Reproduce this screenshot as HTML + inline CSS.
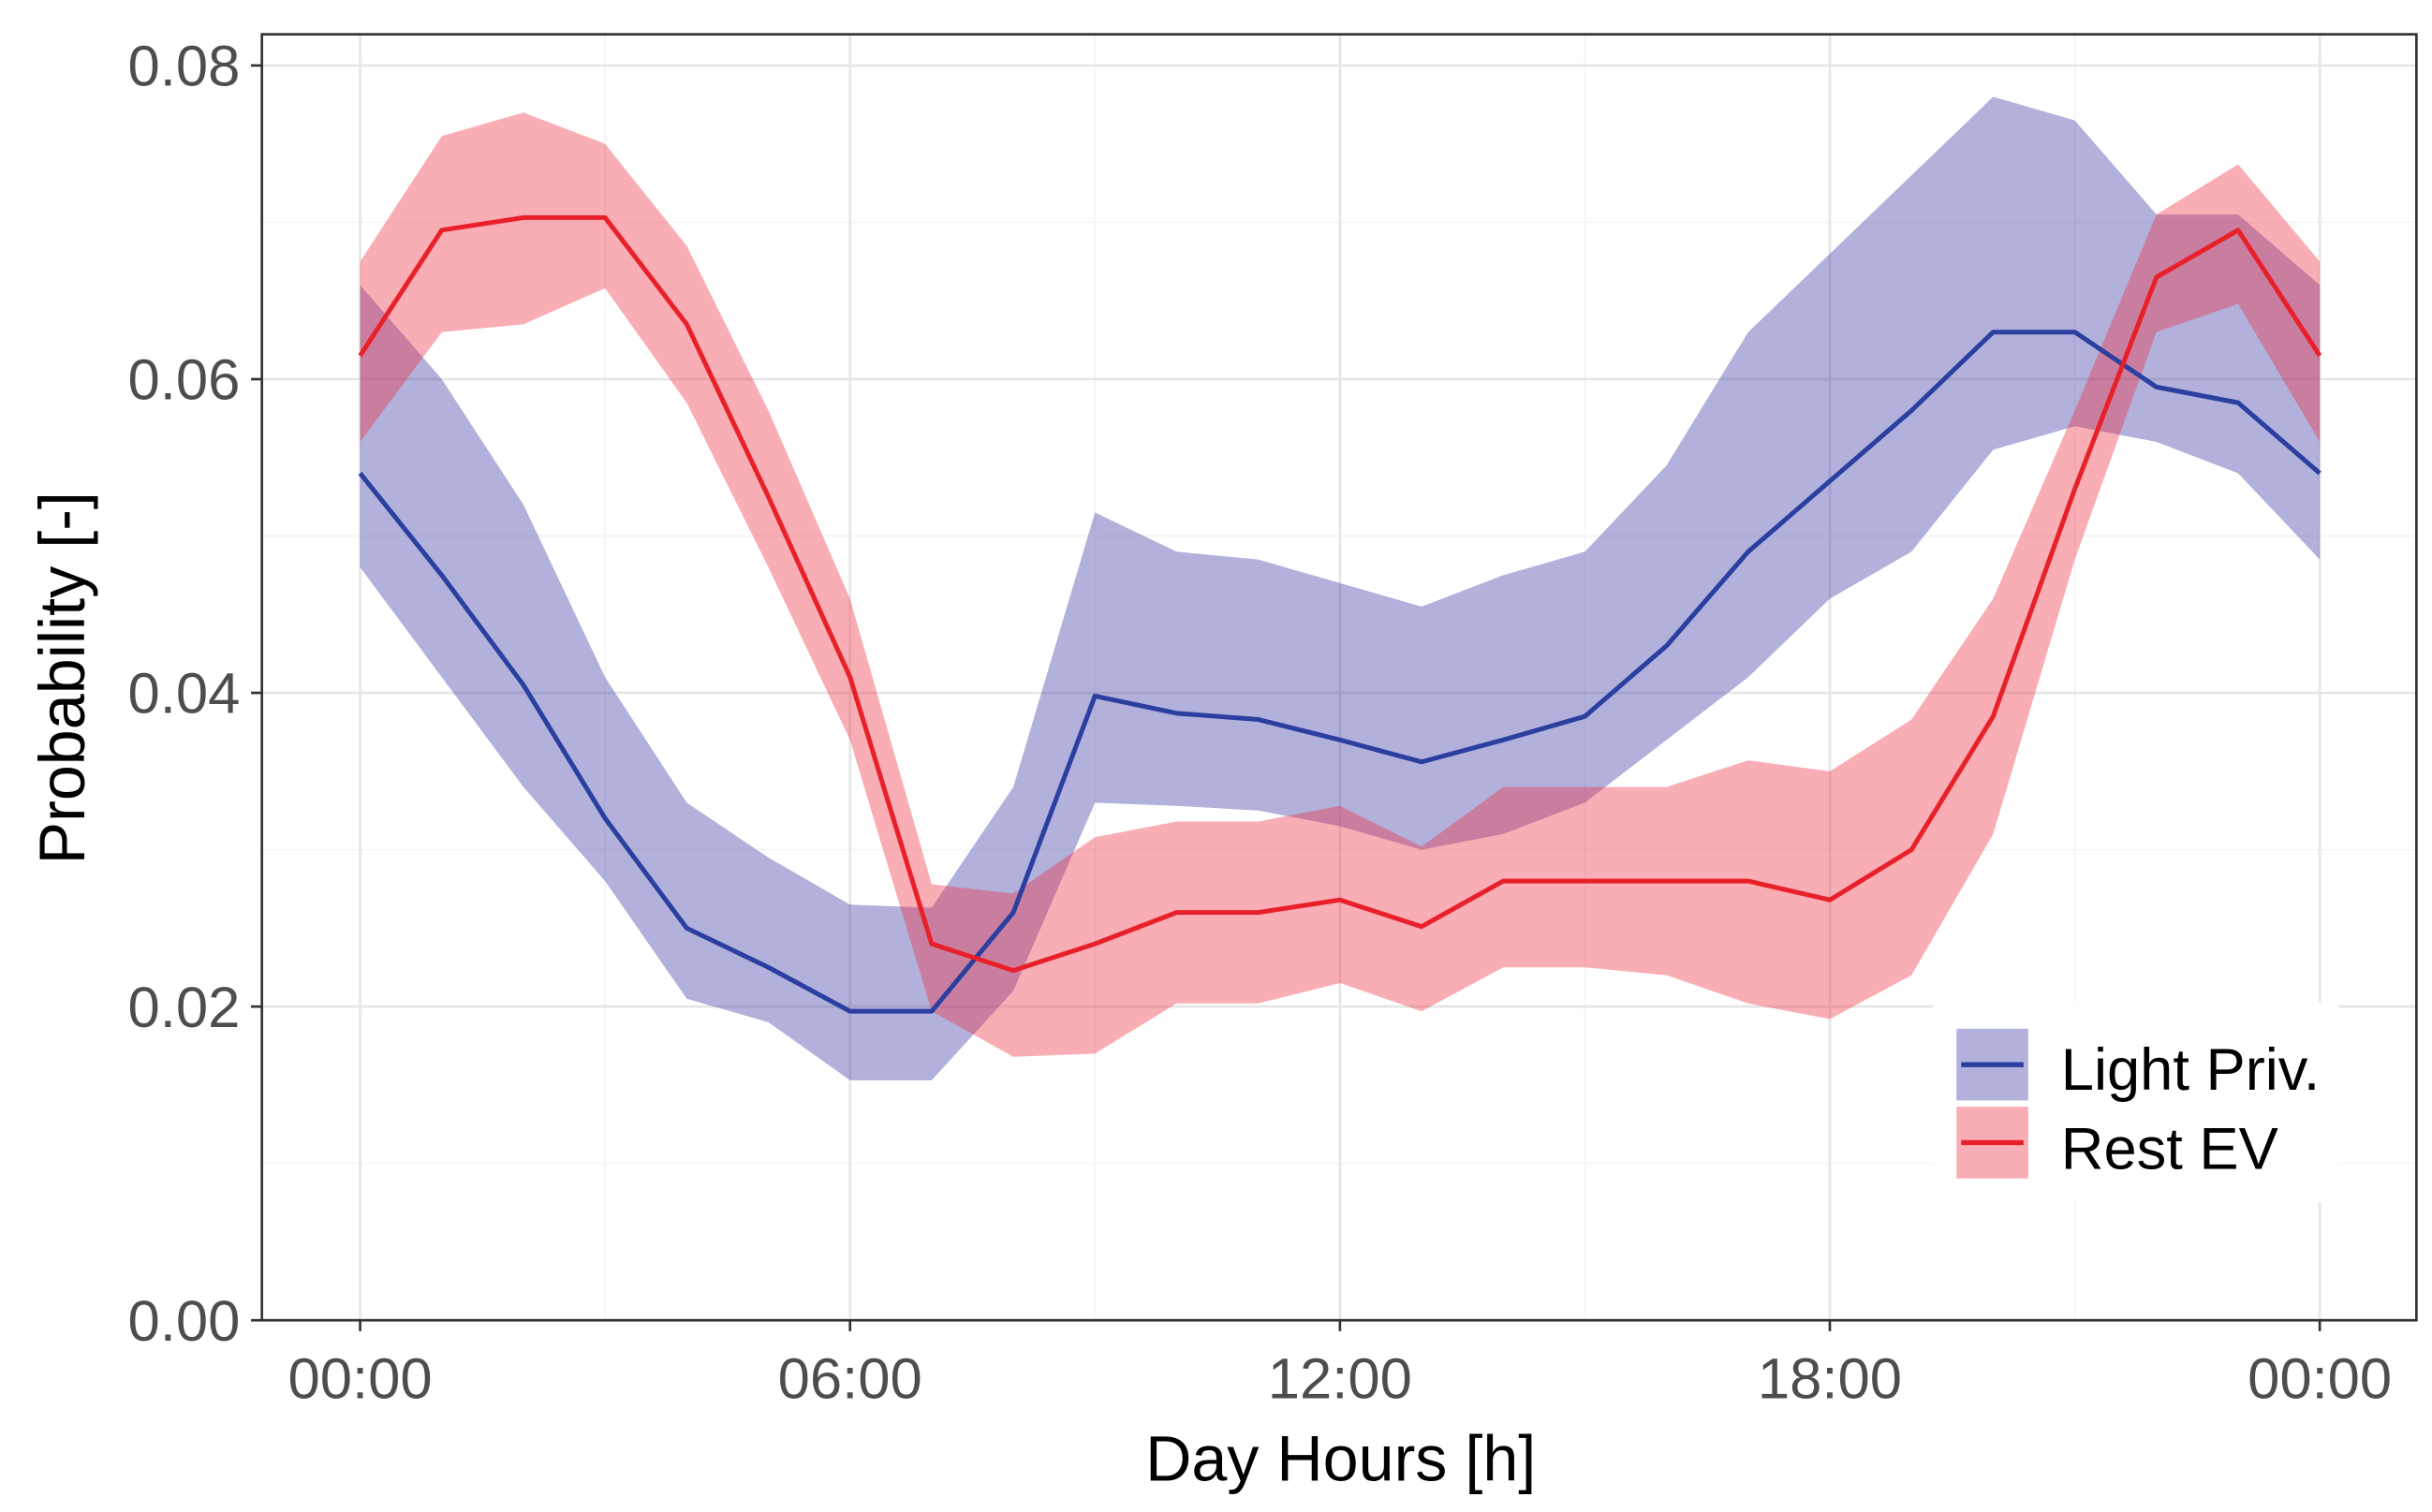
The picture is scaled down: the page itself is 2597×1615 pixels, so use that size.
<!DOCTYPE html>
<html><head><meta charset="utf-8"><style>
html,body{margin:0;padding:0;background:#fff;}
svg{display:block;font-family:"Liberation Sans",sans-serif;}
</style></head><body>
<svg id="chart" width="2597" height="1615" viewBox="0 0 1560 970" preserveAspectRatio="none" xmlns="http://www.w3.org/2000/svg">
<g id="grid"></g>
<g id="bands"></g>
<g id="lines"></g>
<rect x="168" y="22" width="1382" height="825" fill="none" stroke="#333" stroke-width="1.6"/>
<g id="axes"></g>
<text x="860" y="950" font-size="41" text-anchor="middle" fill="#000">Day Hours [h]</text>
<text transform="translate(54,435) rotate(-90)" font-size="41" text-anchor="middle" fill="#000">Probability [-]</text>
<g>
<rect x="1240" y="643" width="260" height="128" fill="#fff"/>
<g>
<rect x="1255" y="660" width="46" height="46" fill="rgb(50,50,160)" fill-opacity="0.38"/>
<line x1="1258" y1="683" x2="1298" y2="683" stroke="#2a3f9f" stroke-width="3.2"/>
<text x="1322" y="699" font-size="38" fill="#000">Light Priv.</text>
</g>
<g>
<rect x="1255" y="710" width="46" height="46" fill="rgb(240,50,70)" fill-opacity="0.4"/>
<line x1="1258" y1="733" x2="1298" y2="733" stroke="#e8202a" stroke-width="3.2"/>
<text x="1322" y="750" font-size="38" fill="#000">Rest EV</text>
</g>
</g>
</svg>
<script>
const hours=[0,1,2,3,4,5,6,7,8,9,10,11,12,13,14,15,16,17,18,19,20,21,22,23,24];
const lightMean=[0.054,0.0475,0.0405,0.032,0.025,0.0225,0.0197,0.0197,0.026,0.0398,0.0387,0.0383,0.037,0.0356,0.037,0.0385,0.043,0.049,0.0535,0.058,0.063,0.063,0.0595,0.0585,0.054];
const lightUpper=[0.066,0.06,0.052,0.041,0.033,0.0295,0.0265,0.0263,0.034,0.0515,0.049,0.0485,0.047,0.0455,0.0475,0.049,0.0545,0.063,0.068,0.073,0.078,0.0765,0.0705,0.0705,0.066];
const lightLower=[0.048,0.041,0.034,0.028,0.0205,0.019,0.0153,0.0153,0.021,0.033,0.0328,0.0325,0.0315,0.030,0.031,0.033,0.037,0.041,0.046,0.049,0.0555,0.057,0.056,0.054,0.0485];
const restMean=[0.0615,0.0695,0.0703,0.0703,0.0635,0.0525,0.041,0.024,0.0223,0.024,0.026,0.026,0.0268,0.0251,0.028,0.028,0.028,0.028,0.0268,0.030,0.0385,0.053,0.0665,0.0695,0.0615];
const restUpper=[0.0675,0.0755,0.077,0.075,0.0685,0.058,0.046,0.0278,0.0272,0.0308,0.0318,0.0318,0.0328,0.0302,0.034,0.034,0.034,0.0357,0.035,0.0383,0.046,0.058,0.0705,0.0737,0.0675];
const restLower=[0.056,0.063,0.0635,0.0658,0.0585,0.048,0.037,0.0197,0.0168,0.017,0.0202,0.0202,0.0215,0.0197,0.0225,0.0225,0.022,0.0202,0.0192,0.022,0.031,0.0485,0.063,0.0648,0.056];
const yTicks=[0,0.02,0.04,0.06,0.08];
const yTickLabels=["0.00","0.02","0.04","0.06","0.08"];
const xTicks=[0,6,12,18,24];
const xTickLabels=["00:00","06:00","12:00","18:00","00:00"];

const NS="http://www.w3.org/2000/svg";
const X=h=>231+(h/24)*(1488-231);
const Y=v=>847-(v/0.08)*(847-42);
function mk(tag,attrs,parent){const e=document.createElementNS(NS,tag);for(const k in attrs)e.setAttribute(k,attrs[k]);parent.appendChild(e);return e;}
const grid=document.getElementById('grid'),bands=document.getElementById('bands'),lines=document.getElementById('lines'),axes=document.getElementById('axes');
for(let v=0.01;v<0.085;v+=0.02){const l=mk('line',{x1:168,x2:1550,y1:Y(v),y2:Y(v),stroke:'#f4f4f4','stroke-width':1},grid);}
for(let h=3;h<24;h+=6){const l=mk('line',{x1:X(h),x2:X(h),y1:22,y2:847,stroke:'#f4f4f4','stroke-width':1},grid);}
yTicks.forEach((v,i)=>{const l=mk('line',{x1:168,x2:1550,y1:Y(v),y2:Y(v),stroke:'#e6e6e6','stroke-width':1.6},grid);
const t=mk('line',{x1:161,x2:168,y1:Y(v),y2:Y(v),stroke:'#333','stroke-width':1.6},axes);
const tx=mk('text',{x:154,y:Y(v)+13,'font-size':37,'text-anchor':'end',fill:'#4d4d4d'},axes);tx.textContent=yTickLabels[i];});
xTicks.forEach((h,i)=>{const l=mk('line',{x1:X(h),x2:X(h),y1:22,y2:847,stroke:'#e6e6e6','stroke-width':1.6},grid);
const t=mk('line',{x1:X(h),x2:X(h),y1:847,y2:854,stroke:'#333','stroke-width':1.6},axes);
const tx=mk('text',{x:X(h),y:897,'font-size':37,'text-anchor':'middle',fill:'#4d4d4d'},axes);tx.textContent=xTickLabels[i];});
function band(up,lo,fill,op,name){let d=hours.map((h,i)=>(i?'L':'M')+X(h)+','+Y(up[i])).join('');for(let i=hours.length-1;i>=0;i--)d+='L'+X(hours[i])+','+Y(lo[i]);d+='Z';
const p=mk('path',{d:d,fill:fill,'fill-opacity':op},bands);}
function line(m,col,name){const d=hours.map((h,i)=>(i?'L':'M')+X(h)+','+Y(m[i])).join('');const p=mk('path',{d:d,fill:'none',stroke:col,'stroke-width':3,'stroke-linejoin':'round'},lines);}
band(lightUpper,lightLower,'rgb(50,50,160)',0.38,'light-priv-ribbon');
band(restUpper,restLower,'rgb(240,50,70)',0.4,'rest-ev-ribbon');
line(lightMean,'#2a3f9f','light-priv-line');
line(restMean,'#e8202a','rest-ev-line');
</script>
</body></html>
